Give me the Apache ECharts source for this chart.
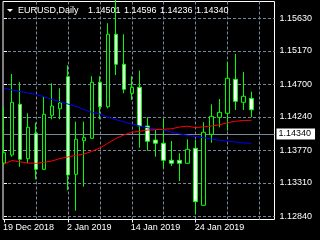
<!DOCTYPE html>
<html><head><meta charset="utf-8">
<script src="https://cdn.jsdelivr.net/npm/echarts@6/dist/echarts.min.js"></script>
<style>html,body{margin:0;padding:0;background:#000;overflow:hidden}#c{width:320px;height:240px}</style>
</head><body><div id="c"></div>
<script>
// ---- data ----
const symbolName = 'EURUSD,Daily';
const dates = ['19 Dec 2018','20 Dec 2018','21 Dec 2018','24 Dec 2018','26 Dec 2018','27 Dec 2018','28 Dec 2018','31 Dec 2018',
  '2 Jan 2019','3 Jan 2019','4 Jan 2019','7 Jan 2019','8 Jan 2019','9 Jan 2019','10 Jan 2019','11 Jan 2019',
  '14 Jan 2019','15 Jan 2019','16 Jan 2019','17 Jan 2019','18 Jan 2019','21 Jan 2019','22 Jan 2019','23 Jan 2019',
  '24 Jan 2019','25 Jan 2019','28 Jan 2019','29 Jan 2019','30 Jan 2019','31 Jan 2019','1 Feb 2019','4 Feb 2019'];
const open  = [1.13591,1.13704,1.14418,1.13652,1.14010,1.13502,1.14263,1.14356,
               1.14807,1.13432,1.13905,1.13939,1.14728,1.14384,1.15405,1.14982,
               1.14573,1.14658,1.14112,1.13915,1.13869,1.13629,1.13629,1.13587,
               1.13798,1.12995,1.13995,1.14235,1.14291,1.14770,1.14446,1.14501];
const high  = [1.14380,1.14845,1.14732,1.14291,1.14159,1.14525,1.14714,1.14644,
               1.14968,1.14173,1.14173,1.14813,1.14813,1.15560,1.15920,1.15405,
               1.14813,1.14892,1.14235,1.14056,1.14211,1.13901,1.13728,1.13925,
               1.13915,1.14165,1.14418,1.14493,1.15014,1.15127,1.14873,1.14596];
const low   = [1.13560,1.13680,1.13539,1.13587,1.13361,1.13490,1.14207,1.14207,
               1.13211,1.12919,1.13257,1.13930,1.14207,1.14362,1.14831,1.14573,
               1.14479,1.13807,1.13764,1.13680,1.13516,1.13549,1.13337,1.13580,
               1.12868,1.12990,1.13877,1.14094,1.14046,1.14338,1.14338,1.14236];
const close = [1.13736,1.14446,1.13643,1.14094,1.13502,1.14277,1.14394,1.14437,
               1.13422,1.13925,1.13948,1.14728,1.14384,1.15405,1.14982,1.14630,
               1.14658,1.14112,1.13897,1.13869,1.13629,1.13587,1.13587,1.13784,
               1.13046,1.14024,1.14249,1.14305,1.14785,1.14460,1.14531,1.14340];
const maBlue = [1.14644,1.14620,1.14599,1.14577,1.14559,1.14525,1.14486,1.14455,
                1.14422,1.14390,1.14345,1.14303,1.14281,1.14239,1.14201,1.14173,
                1.14141,1.14110,1.14087,1.14070,1.14056,1.14025,1.14000,1.13981,
                1.13964,1.13948,1.13929,1.13911,1.13897,1.13887,1.13873,1.13869];
const maRed  = [1.13577,1.13626,1.13608,1.13591,1.13587,1.13601,1.13619,1.13654,
                1.13676,1.13700,1.13715,1.13756,1.13802,1.13869,1.13936,1.13986,
                1.14024,1.14038,1.14056,1.14060,1.14067,1.14074,1.14098,1.14110,
                1.14090,1.14101,1.14112,1.14129,1.14158,1.14179,1.14190,1.14193];
const yTickLabels = ['1.12840','1.13310','1.13770','1.14240','1.14700','1.15170','1.15630'];
const xLabelIndex = [0, 8, 16, 24];
const xGridIndex = [4, 8, 12, 16, 20, 24, 28, 32];

// ---- font pick ----
function hasFont(name){
  const ctx=document.createElement('canvas').getContext('2d');
  const s='1.14501 EURUSD,Daily';
  ctx.font="20px monospace"; const a=ctx.measureText(s).width;
  ctx.font="20px '"+name+"', monospace"; const b=ctx.measureText(s).width;
  ctx.font="20px serif"; const c=ctx.measureText(s).width;
  ctx.font="20px '"+name+"', serif"; const d=ctx.measureText(s).width;
  return a!==b || c!==d;
}
const narrow = hasFont('Liberation Sans Narrow');
const FF = narrow ? "'Liberation Sans Narrow'" : "'Liberation Sans'";
const FS = narrow ? 11 : 9;
const FONT = FS + 'px ' + FF;

const yTickVals = yTickLabels.map(Number);
const candleData = dates.map((d,i)=>[i, open[i], close[i], low[i], high[i]]);
const last = close.length - 1;
const GRIDC = '#778899';

const chart = echarts.init(document.getElementById('c'), null, {renderer:'canvas'});
const header = [symbolName, open[last].toFixed(5), high[last].toFixed(5), low[last].toFixed(5), close[last].toFixed(5)];
const headerX = [18, 88, 124, 160, 196];
chart.setOption({
  animation:false,
  backgroundColor:'#000',
  grid:{left:2.5, right:45.5, top:1.5, bottom:20.5, show:true, borderColor:'#fff', borderWidth:1, backgroundColor:'#000'},
  xAxis:[{
    type:'value', min:-0.125, max:33.875, position:'bottom',
    axisLine:{show:false},
    axisTick:{show:true, customValues:xLabelIndex, length:3, lineStyle:{color:'#fff'}},
    axisLabel:{customValues:xLabelIndex, formatter:v=>dates[Math.round(v)], color:'#fff', align:'left', margin:4, fontSize:FS, fontFamily:FF, padding:[0,0,0,-1]},
    splitLine:{show:false}
  },{
    type:'value', min:-0.125, max:33.875, position:'bottom',
    axisLine:{show:false}, axisTick:{show:false, customValues:xGridIndex}, axisLabel:{show:false},
    splitLine:{show:true, lineStyle:{color:GRIDC, type:[3,2], width:1}}
  }],
  yAxis:{
    type:'value', min:1.127949, max:1.158667, position:'right',
    axisLine:{show:false},
    axisTick:{show:true, customValues:yTickVals, length:3, lineStyle:{color:'#fff'}},
    axisLabel:{customValues:yTickVals, formatter:v=>v.toFixed(5), color:'#fff', margin:5, fontSize:FS, fontFamily:FF},
    splitLine:{show:true, lineStyle:{color:GRIDC, type:[3,2], width:1}}
  },
  series:[{
    type:'candlestick', xAxisIndex:0, data:candleData, encode:{x:0, y:[1,2,3,4]},
    barWidth:4, z:6, silent:true,
    itemStyle:{color:'#000', color0:'#fff', borderColor:'#00ff00', borderColor0:'#00ff00', borderWidth:1},
    markLine:{
      silent:true, symbol:['none','none'], animation:false,
      lineStyle:{color:GRIDC, type:'solid', width:1},
      label:{show:true, position:'end', formatter:()=>close[last].toFixed(5), backgroundColor:'#fff', color:'#000',
             padding:[1,4,1,2], distance:2, fontSize:FS, fontFamily:FF},
      data:[{yAxis:close[last]}]
    }
  },{
    type:'line', xAxisIndex:0, data:maBlue.map((v,i)=>[i,v]), showSymbol:false, symbol:'none', silent:true, z:7,
    lineStyle:{color:'#0000ff', width:1}
  },{
    type:'line', xAxisIndex:0, data:maRed.map((v,i)=>[i,v]), showSymbol:false, symbol:'none', silent:true, z:7,
    lineStyle:{color:'#ff0000', width:1}
  }],
  graphic:[
    {type:'polygon', z:100, shape:{points:[[7,9],[13,9],[10,12]]}, style:{fill:'#fff'}},
    ...header.map((t,k)=>({type:'text', z:100, x:headerX[k], y:11, style:{text:t, fill:'#fff', font:FONT, verticalAlign:'middle', align:'left'}}))
  ]
});
</script></body></html>
